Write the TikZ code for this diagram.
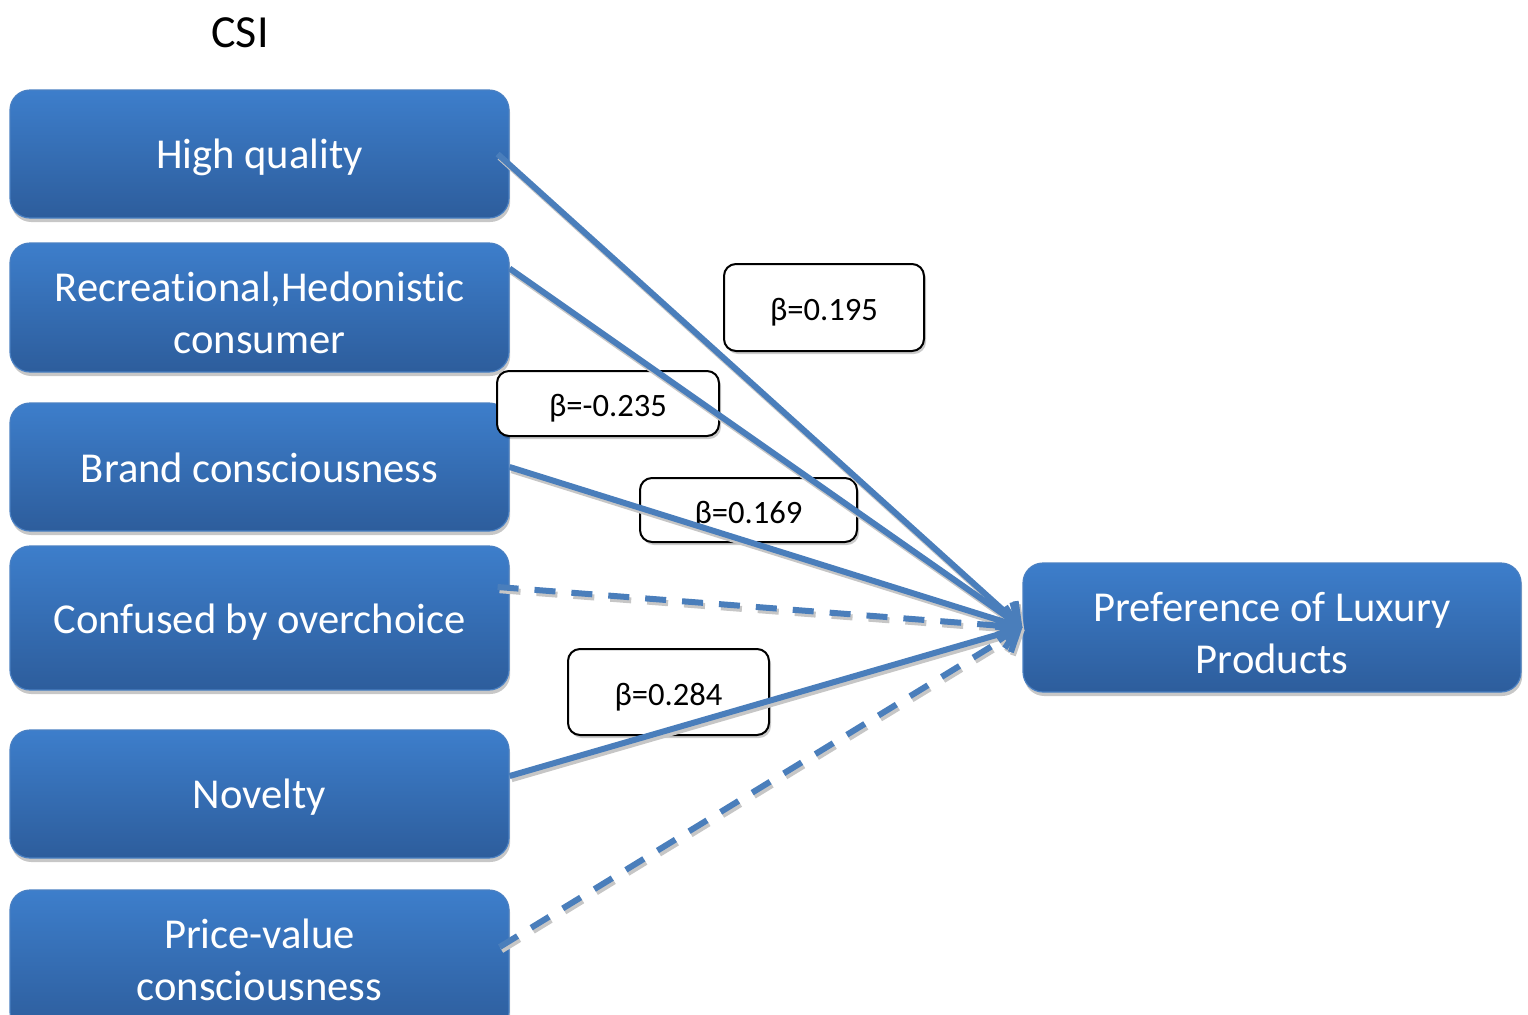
\documentclass[tikz,border=0pt]{standalone}
\usepackage{fontspec}
\setmainfont{Carlito}[Ligatures=NoCommon]
\usetikzlibrary{arrows.meta,shadows}

\definecolor{boxtop}{HTML}{3D7ECB}
\definecolor{boxbot}{HTML}{2D5D9C}
\definecolor{boxedge}{HTML}{4A80C2}
\definecolor{linkblue}{HTML}{4A7EBB}
\definecolor{linkshade}{HTML}{C6C6C6}

% Draws the six paths from the CSI factors to the outcome box
\newcommand\csilinks[1]{%
  \draw[link=#1] ([xshift=-6pt]hq.east) -- (pref.west);
  \draw[link=#1] ([yshift=19.5pt]rec.east) -- (pref.west);
  \draw[link=#1] (brand.east) -- (pref.west);
  \draw[link=#1, linkdash] ([xshift=-6pt,yshift=15.5pt]conf.east) -- (pref.west);
  \draw[link=#1] ([yshift=9pt]nov.east) -- (pref.west);
  \draw[link=#1, linkdash] ([xshift=-5pt,yshift=7pt]price.east) -- (pref.west);
}

\begin{document}
\begin{tikzpicture}[x=0.5pt,y=-0.5pt,
  factor/.style={rounded corners=10pt, top color=boxtop, bottom color=boxbot,
    draw=boxedge, line width=0.6pt, minimum width=249.5pt, minimum height=#1,
    inner sep=0pt,
    drop shadow={shadow xshift=0.6pt, shadow yshift=-2pt, fill=black, opacity=0.22}},
  factor/.default=64pt,
  ftext/.style={inner sep=0pt, align=center, text=white,
    font=\fontsize{21.3}{26}\selectfont},
  coef/.style={rounded corners=6pt, fill=white, draw=black, line width=1pt,
    inner sep=0pt, text height=13pt, text depth=0pt,
    font=\fontsize{16.3}{19}\selectfont,
    drop shadow={shadow xshift=1pt, shadow yshift=-1.5pt, fill=black, opacity=0.2}},
  link/.style={draw=#1, line width=3pt,
    -{Straight Barb[length=9pt,width=15pt,line width=3pt]}},
  linkdash/.style={dash pattern=on 10.5pt off 8pt},
]
\clip (0,0) rectangle (1528,1014);

\node[font=\fontsize{23}{28}\selectfont] (title) at (240,33) {CSI};

% explanatory factors
\node[factor] (hq) at (259.5,154) {};
\node[factor=64.5pt] (rec) at (259.5,307.5) {};
\node[factor] (brand) at (259.5,467) {};
\node[factor=72pt] (conf) at (259.5,618) {};
\node[factor] (nov) at (259.5,794) {};
\node[factor=71pt] (price) at (259.5,961) {};

% outcome
\node[factor=64.5pt, minimum width=249pt] (pref) at (1272,627.5) {};

% box captions
\node[ftext, anchor=base] (hq-t) at ([yshift=-7pt]hq.center) {High quality};
\node[ftext] (rec-t) at ([yshift=-2.5pt]rec.center) {Recreational,Hedonistic\\consumer};
\node[ftext, anchor=base] (brand-t) at ([yshift=-7.5pt]brand.center) {Brand consciousness};
\node[ftext, anchor=base] (conf-t) at ([yshift=-7.5pt]conf.center) {Confused by overchoice};
\node[ftext, anchor=base] (nov-t) at ([yshift=-7pt]nov.center) {Novelty};
\node[ftext] (price-t) at ([yshift=0.5pt]price.center) {Price-value\\consciousness};
\node[ftext] (pref-t) at ([yshift=-2.75pt]pref.center) {Preference of Luxury\\Products};

% path coefficients
\node[coef, minimum width=100pt, minimum height=43.5pt] (b1) at (824,307.5) {β=0.195};
\node[coef, minimum width=111pt, minimum height=32.5pt] (b2) at (608,403.5) {β=-0.235};
\node[coef, minimum width=108.5pt, minimum height=32pt] (b3) at (748.5,510) {β=0.169};
\node[coef, minimum width=100.5pt, minimum height=43pt] (b4) at (668.5,692) {β=0.284};

% connector shadows, then connectors
\begin{scope}[transform canvas={shift={(1pt,-1.6pt)}}]
  \csilinks{linkshade}
\end{scope}
\csilinks{linkblue}
\end{tikzpicture}
\end{document}
